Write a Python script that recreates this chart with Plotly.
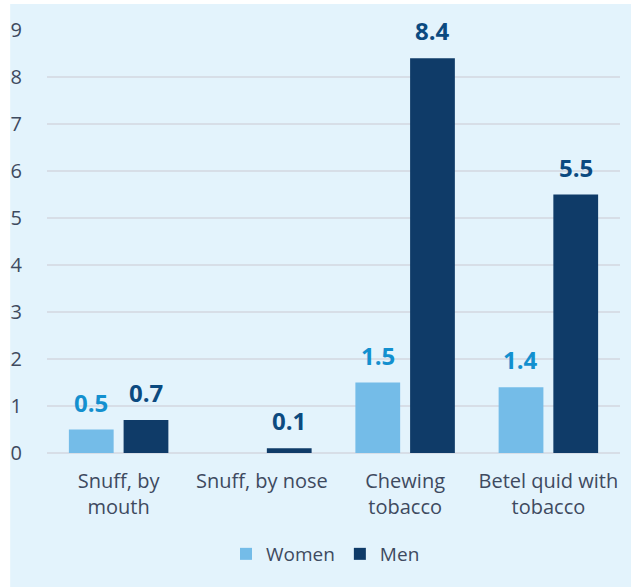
import plotly.graph_objects as go

categories = ["Snuff, by<br>mouth", "Snuff, by nose", "Chewing<br>tobacco", "Betel quid with<br>tobacco"]
women = [0.5, None, 1.5, 1.4]
men = [0.7, 0.1, 8.4, 5.5]
y_ticks = [0, 1, 2, 3, 4, 5, 6, 7, 8, 9]

W, H = 631, 587
ML, MR, MT, MB = 44, 11, 30, 134
PW, PH = W - ML - MR, H - MT - MB

FONT = "Open Sans"
TXT = "#3e4a5f"
WOMEN_BAR = "#74bce8"
MEN_BAR = "#0f3b68"
WOMEN_LBL = "#1390cf"
MEN_LBL = "#0b4a80"
BARGAP = 0.236

fig = go.Figure()
fig.add_trace(go.Bar(name="Women", x=categories, y=women, marker=dict(color=WOMEN_BAR, line=dict(width=0))))
fig.add_trace(go.Bar(name="Men", x=categories, y=men, marker=dict(color=MEN_BAR, line=dict(width=0))))

slot_px = PW / len(categories) * (1 - BARGAP) / 2
annotations = []
for vals, sign, col in [(women, -1, WOMEN_LBL), (men, 1, MEN_LBL)]:
    for c, v in zip(categories, vals):
        if v is None:
            continue
        annotations.append(dict(x=c, y=v, xref="x", yref="y", text=f"<b>{v:.1f}</b>",
                                showarrow=False, yanchor="bottom", xshift=sign * slot_px / 2,
                                yshift=9, font=dict(family=FONT, size=24, color=col)))


def px_x(p):
    return (p - ML) / PW


def px_y(p):
    return (H - MB - p) / PH


fig.update_layout(
    width=W, height=H,
    margin=dict(l=ML, r=MR, t=MT, b=MB),
    paper_bgcolor="white",
    plot_bgcolor="rgba(0,0,0,0)",
    barmode="group", bargap=BARGAP, bargroupgap=0.182,
    font=dict(family=FONT, color=TXT, size=20),
    shapes=[dict(type="rect", xref="paper", yref="paper", x0=px_x(7), x1=px_x(W + 2),
                 y0=px_y(H + 2), y1=px_y(4), fillcolor="#e3f3fc", line=dict(width=0), layer="below")],
    annotations=annotations,
    showlegend=True,
    legend=dict(orientation="h", x=0.486, xanchor="center", y=px_y(554), yanchor="middle",
                font=dict(family=FONT, size=19, color=TXT), bgcolor="rgba(0,0,0,0)",
                itemwidth=30, traceorder="normal"),
    xaxis=dict(showgrid=False, zeroline=False, showline=False, ticks="outside", ticklen=10,
               tickcolor="rgba(0,0,0,0)", tickfont=dict(family=FONT, size=20, color=TXT)),
    yaxis=dict(range=[0, 9], tickvals=y_ticks, showgrid=True, gridcolor="#d7dee7", gridwidth=1.5,
               zeroline=True, zerolinecolor="#d7dee7", zerolinewidth=1.5, showline=False,
               ticks="outside", ticklen=20, tickcolor="rgba(0,0,0,0)",
               tickfont=dict(family=FONT, size=20, color=TXT)),
)

fig.write_html("out.html")
